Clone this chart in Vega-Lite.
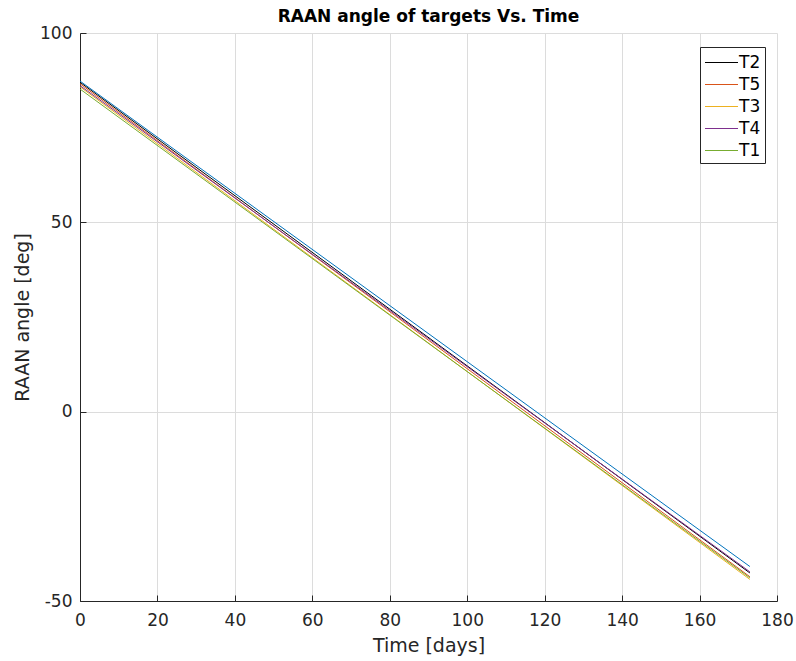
{
  "$schema": "https://vega.github.io/schema/vega-lite/v6.json",
  "autosize": "none",
  "width": 697,
  "height": 568,
  "padding": {"left": 80, "top": 33, "right": 19, "bottom": 60},
  "background": "white",
  "title": {"text": "RAAN angle of targets Vs. Time", "font": "DejaVu Sans", "fontSize": 17, "fontWeight": "bold", "color": "#000000", "offset": -2},
  "config": {
    "view": {"stroke": null},
    "font": "DejaVu Sans",
    "axis": {
      "labelFont": "DejaVu Sans", "titleFont": "DejaVu Sans",
      "labelFontSize": 17, "titleFontSize": 19, "titleFontWeight": "normal",
      "labelColor": "#262626", "titleColor": "#262626",
      "domainColor": "#262626", "tickColor": "#262626",
      "gridColor": "#dcdcdc", "gridWidth": 1, "tickSize": -6, "labelFlush": false
    },
    "legend": {
      "orient": "none", "legendX": 620, "legendY": 14,
      "strokeColor": "#262626", "fillColor": "white", "padding": 4,
      "labelFont": "DejaVu Sans", "labelFontSize": 17, "labelColor": "#000000",
      "symbolType": "M-1.5,0H1.5", "symbolSize": 484, "symbolStrokeWidth": 1, "rowPadding": 2, "labelOffset": 6, "symbolOffset": 6
    }
  },
  "datasets": {
    "lines": [
      {"series": "B", "time": 0, "raan": 87.3},
      {"series": "B", "time": 173, "raan": -40.9},
      {"series": "T2", "time": 0, "raan": 87.0},
      {"series": "T2", "time": 173, "raan": -42.6},
      {"series": "T5", "time": 0, "raan": 86.6},
      {"series": "T5", "time": 173, "raan": -43.6},
      {"series": "T3", "time": 0, "raan": 85.8},
      {"series": "T3", "time": 173, "raan": -44.3},
      {"series": "T4", "time": 0, "raan": 86.1},
      {"series": "T4", "time": 173, "raan": -42.3},
      {"series": "T1", "time": 0, "raan": 85.2},
      {"series": "T1", "time": 173, "raan": -43.9}
    ]
  },
  "data": {"name": "lines"},
  "encoding": {
    "x": {"field": "time", "type": "quantitative", "title": "Time [days]",
      "scale": {"domain": [0, 180], "nice": false},
      "axis": {"values": [0, 20, 40, 60, 80, 100, 120, 140, 160, 180], "titlePadding": 8, "labelPadding": 17}},
    "y": {"field": "raan", "type": "quantitative", "title": "RAAN angle [deg]",
      "scale": {"domain": [-50, 100], "nice": false},
      "axis": {"values": [-50, 0, 50, 100], "titlePadding": 7, "labelPadding": 14, "labelExpr": "'' + datum.value"}}
  },
  "layer": [
    {
      "transform": [{"filter": "datum.series != 'B'"}],
      "mark": {"type": "line", "strokeWidth": 1},
      "encoding": {
        "color": {"field": "series", "type": "nominal", "title": null,
          "sort": ["T2", "T5", "T3", "T4", "T1"],
          "scale": {"domain": ["T2", "T5", "T3", "T4", "T1"], "range": ["#000000", "#D95319", "#EDB120", "#7E2F8E", "#77AC30"]}}
      }
    },
    {
      "transform": [{"filter": "datum.series == 'B'"}],
      "mark": {"type": "line", "strokeWidth": 1, "color": "#0072BD"},
      "encoding": {}
    }
  ]
}
